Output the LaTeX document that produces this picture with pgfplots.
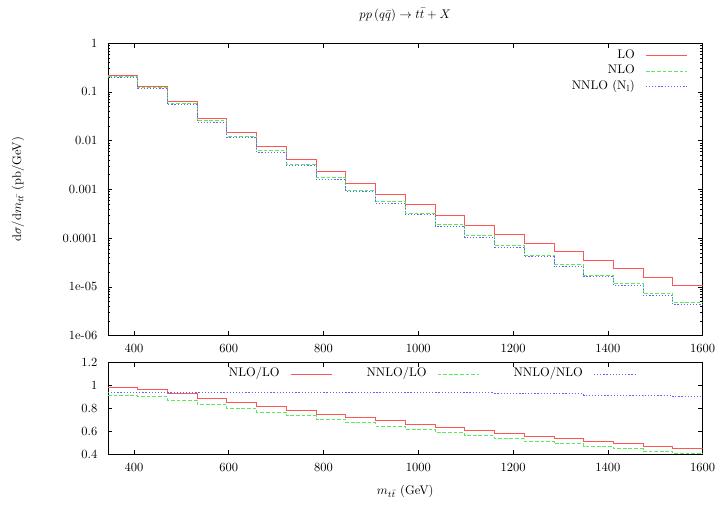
\documentclass[border=0pt]{standalone}
\usepackage{pgfplots}
\pgfplotsset{compat=1.18}
\definecolor{lored}{RGB}{255,85,85}
\definecolor{nlogreen}{RGB}{90,235,90}
\definecolor{nnloblue}{RGB}{100,100,255}
\pgfplotsset{
  gp/.style={
    scale only axis, width=476pt,
    xmin=345, xmax=1600,
    xtick={400,600,800,1000,1200,1400,1600},
    /pgf/number format/1000 sep={},
    major tick length=3.5pt, minor tick length=2pt,
    tick align=inside, tick pos=both,
    every tick/.style={black, line width=0.4pt},
    axis line style={black, line width=0.5pt},
    yticklabel style={xshift=-5pt},
    legend plot pos=right,
    legend image code/.code={\draw[#1] (0pt,0pt) -- (33pt,0pt);},
  },
  lo/.style={lored, line width=0.6pt, const plot},
  nlo/.style={nlogreen, line width=0.6pt, const plot, dash pattern=on 3pt off 1.5pt},
  nnlo/.style={nnloblue, line width=0.6pt, const plot, dash pattern=on 1pt off 1.5pt},
}
\begin{document}
\begin{tikzpicture}
\begin{axis}[gp, at={(0,0)}, anchor=south west, height=234pt,
  ymode=log, ymin=1e-6, ymax=1,
  ytick={1e-6,1e-5,1e-4,1e-3,1e-2,1e-1,1},
  yticklabels={1e-06,1e-05,0.0001,0.001,0.01,0.1,1},
  minor ytick={2e-6,3e-6,4e-6,5e-6,6e-6,7e-6,8e-6,9e-6,
    2e-5,3e-5,4e-5,5e-5,6e-5,7e-5,8e-5,9e-5,
    2e-4,3e-4,4e-4,5e-4,6e-4,7e-4,8e-4,9e-4,
    2e-3,3e-3,4e-3,5e-3,6e-3,7e-3,8e-3,9e-3,
    0.02,0.03,0.04,0.05,0.06,0.07,0.08,0.09,
    0.2,0.3,0.4,0.5,0.6,0.7,0.8,0.9},
  xticklabel style={yshift=-4pt},
  every axis title shift=0pt,
  title={$pp\,(q\bar q)\rightarrow t\bar t + X$},
  title style={at={(axis description cs:0.5,1.097)}, anchor=center},
  ylabel={$\mathrm{d}\sigma/\mathrm{d}m_{t\bar t}$ (pb/GeV)},
  ylabel style={at={(axis description cs:-0.1513,0.5)}, anchor=center},
  legend style={draw=none, fill=none, inner sep=0pt, at={(axis description cs:0.975,1)}, anchor=north east, yshift=-3.4pt,
    nodes={inner sep=1.5pt, text height=7pt, text depth=2.5pt},
    /tikz/every odd column/.append style={column sep=7pt}},
  legend cell align=right,
]
\addplot[lo] coordinates {
(345,0.217) (407.75,0.129) (470.5,0.0627) (533.25,0.0290) (596,0.0147)
(658.75,0.0076) (721.5,0.0042) (784.25,0.0023) (847,0.00133) (909.75,0.00080)
(972.5,0.000486) (1035.25,0.000299) (1098,0.000186) (1160.75,0.000122) (1223.5,7.97e-5)
(1286.25,5.29e-5) (1349,3.41e-5) (1411.75,2.34e-5) (1474.5,1.57e-5) (1537.25,1.06e-5)
(1600,1.06e-5)};
\addlegendentry{LO}
\addplot[nlo] coordinates {
(345,0.2124) (407.75,0.1240) (470.5,0.05831) (533.25,0.02569) (596,0.01252)
(658.75,0.006209) (721.5,0.003289) (784.25,0.001727) (847,0.0009563) (909.75,0.0005544)
(972.5,0.0003227) (1035.25,0.0001893) (1098,0.0001129) (1160.75,7.088e-5) (1223.5,4.471e-5)
(1286.25,2.846e-5) (1349,1.756e-5) (1411.75,1.158e-5) (1474.5,7.442e-6) (1537.25,4.812e-6)
(1600,4.812e-6)};
\addlegendentry{NLO}
\addplot[nnlo] coordinates {
(345,0.1973) (407.75,0.1166) (470.5,0.05467) (533.25,0.02413) (596,0.01176)
(658.75,0.005837) (721.5,0.003095) (784.25,0.001622) (847,0.0008991) (909.75,0.0005184)
(972.5,0.0003013) (1035.25,0.0001773) (1098,0.0001049) (1160.75,6.600e-5) (1223.5,4.128e-5)
(1286.25,2.619e-5) (1349,1.603e-5) (1411.75,1.058e-5) (1474.5,6.767e-6) (1537.25,4.357e-6)
(1600,4.357e-6)};
\addlegendentry{NNLO (N$_{\mathrm{l}}$)}
\end{axis}
\begin{axis}[gp, at={(0,-21.4pt)}, anchor=north west, height=74pt,
  ymin=0.4, ymax=1.2, ytick={0.4,0.6,0.8,1,1.2},
  xticklabel style={yshift=-3.5pt},
  xlabel={$m_{t\bar t}$ (GeV)},
  xlabel style={at={(axis description cs:0.5,-0.4)}, anchor=center},
  legend columns=3,
  legend style={draw=none, fill=none, inner sep=0pt, at={(axis description cs:0.2,1)}, anchor=north west, yshift=-3pt,
    nodes={inner sep=1.5pt, text height=7pt, text depth=2.5pt},
    /tikz/every odd column/.append style={column sep=7pt},
    /tikz/every even column/.append style={column sep=26pt}},
]
\addplot[lo] coordinates {
(345,0.979) (407.75,0.961) (470.5,0.930) (533.25,0.886) (596,0.852)
(658.75,0.817) (721.5,0.783) (784.25,0.751) (847,0.719) (909.75,0.693)
(972.5,0.664) (1035.25,0.633) (1098,0.607) (1160.75,0.581) (1223.5,0.561)
(1286.25,0.538) (1349,0.515) (1411.75,0.495) (1474.5,0.474) (1537.25,0.454)
(1600,0.454)};
\addlegendentry{NLO/LO}
\addplot[nlo] coordinates {
(345,0.909) (407.75,0.904) (470.5,0.872) (533.25,0.832) (596,0.800)
(658.75,0.768) (721.5,0.737) (784.25,0.705) (847,0.676) (909.75,0.648)
(972.5,0.620) (1035.25,0.593) (1098,0.564) (1160.75,0.541) (1223.5,0.518)
(1286.25,0.495) (1349,0.470) (1411.75,0.452) (1474.5,0.431) (1537.25,0.411)
(1600,0.411)};
\addlegendentry{NNLO/LO}
\addplot[nnlo] coordinates {
(345,0.941) (407.75,0.941) (470.5,0.941) (533.25,0.941) (596,0.941)
(658.75,0.941) (721.5,0.941) (784.25,0.940) (847,0.940) (909.75,0.939)
(972.5,0.937) (1035.25,0.936) (1098,0.935) (1160.75,0.934) (1223.5,0.928)
(1286.25,0.927) (1349,0.913) (1411.75,0.913) (1474.5,0.912) (1537.25,0.904)
(1600,0.904)};
\addlegendentry{NNLO/NLO}
\end{axis}
\path (-86.4pt,-140pt) rectangle (496.4pt,268.6pt);
\end{tikzpicture}
\end{document}
